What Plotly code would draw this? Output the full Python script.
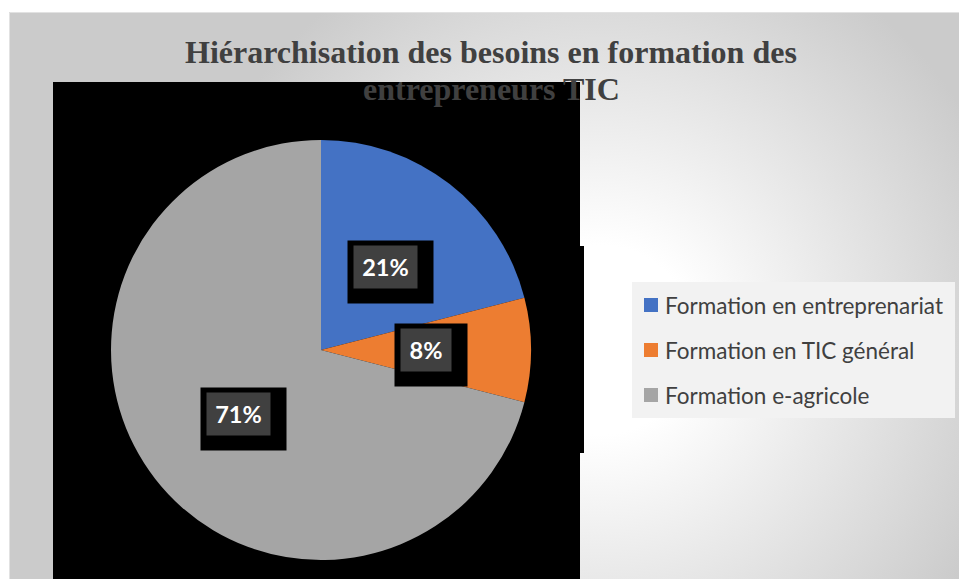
import base64
import math
import plotly.graph_objects as go

# ---- data ----
labels = ["Formation en entreprenariat", "Formation en TIC général", "Formation e-agricole"]
values = [21, 8, 71]
colors = ["#4472C4", "#ED7D31", "#A5A5A5"]
title_lines = ["Hiérarchisation des besoins en formation des", "entrepreneurs TIC"]

W, H = 959, 579


def px(x):
    return x / W


def py(y):
    return 1 - y / H


# gradient background as svg image
svg = f'''<svg xmlns="http://www.w3.org/2000/svg" width="{W}" height="{H}" viewBox="0 0 {W} {H}" preserveAspectRatio="none">
<defs><radialGradient id="g" gradientUnits="userSpaceOnUse" cx="600" cy="340" r="430">
<stop offset="0" stop-color="#ffffff"/><stop offset="0.22" stop-color="#ffffff"/>
<stop offset="1" stop-color="#cbcbcb"/></radialGradient></defs>
<rect x="9" y="12" width="{W-9}" height="{H-12}" fill="url(#g)"/>
<path d="M9.5 {H} L9.5 12.5 L{W} 12.5" fill="none" stroke="#e2e2e2" stroke-width="1"/>
</svg>'''
svg_uri = "data:image/svg+xml;base64," + base64.b64encode(svg.encode()).decode()

# pie geometry (pixels)
cx, cy, R = 321, 350, 210

fig = go.Figure()
fig.add_trace(go.Pie(
    labels=labels, values=values,
    marker=dict(colors=colors, line=dict(width=0)),
    sort=False, direction="clockwise", rotation=0,
    textinfo="none", hoverinfo="label+percent",
    showlegend=False,
    domain=dict(x=[px(cx - R), px(cx + R)], y=[py(cy + R), py(cy - R)]),
))

shapes = [
    dict(type="rect", xref="paper", yref="paper", x0=px(53), x1=px(580), y0=py(579), y1=py(82),
         fillcolor="black", line=dict(width=0), layer="below"),
    dict(type="rect", xref="paper", yref="paper", x0=px(580), x1=px(584), y0=py(453), y1=py(246),
         fillcolor="black", line=dict(width=0), layer="below"),
    # legend background
    dict(type="rect", xref="paper", yref="paper", x0=px(632), x1=px(955), y0=py(418), y1=py(282),
         fillcolor="#f2f2f2", line=dict(width=0), layer="below"),
]

annotations = []
# title (two lines)
for i, line in enumerate(title_lines):
    annotations.append(dict(
        x=px(491), y=py(52 + 37 * i), xref="paper", yref="paper", text=f"<b>{line}</b>",
        showarrow=False, xanchor="center", yanchor="middle",
        font=dict(family="Liberation Serif", size=32, color="#404040"),
    ))

# data labels at half radius, at slice mid-angle
total = sum(values)
cum = 0
for v in values:
    mid = (cum + v / 2) / total * 2 * math.pi
    cum += v
    lx = cx + 0.5 * R * math.sin(mid)
    ly = cy - 0.5 * R * math.cos(mid)
    txt = f"{v}%"
    bw = 24 + 13 * len(txt)
    annotations.append(dict(
        x=px(lx + 5), y=py(ly + 5), xref="paper", yref="paper", text="",
        xanchor="center", yanchor="middle",
        showarrow=False, width=bw + 22, height=62, bgcolor="black", borderpad=0,
    ))
    annotations.append(dict(
        x=px(lx), y=py(ly), xref="paper", yref="paper", text=f"<b>{txt}</b>",
        xanchor="center", yanchor="middle",
        showarrow=False, width=bw, height=42, bgcolor="#404040", borderpad=0,
        font=dict(family="Lato", size=23.5, color="white"),
    ))

# legend (manual)
for i, (lab, col) in enumerate(zip(labels, colors)):
    yc = 305 + 45 * i
    shapes.append(dict(type="rect", xref="paper", yref="paper",
                       x0=px(644), x1=px(658), y0=py(yc + 7), y1=py(yc - 7),
                       fillcolor=col, line=dict(width=0)))
    annotations.append(dict(
        x=px(663), y=py(yc), xref="paper", yref="paper", text=lab,
        showarrow=False, xanchor="left", yanchor="middle",
        font=dict(family="Lato", size=22.5, color="#404040"),
    ))

fig.update_layout(
    width=W, height=H, margin=dict(l=0, r=0, t=0, b=0),
    paper_bgcolor="white", plot_bgcolor="rgba(0,0,0,0)",
    images=[dict(source=svg_uri, xref="paper", yref="paper", x=0, y=1, sizex=1, sizey=1,
                 xanchor="left", yanchor="top", sizing="stretch", layer="below")],
    shapes=shapes, annotations=annotations,
)

fig.write_html("out.html", config={"displayModeBar": False},
               post_script="document.body.style.margin='0';")
